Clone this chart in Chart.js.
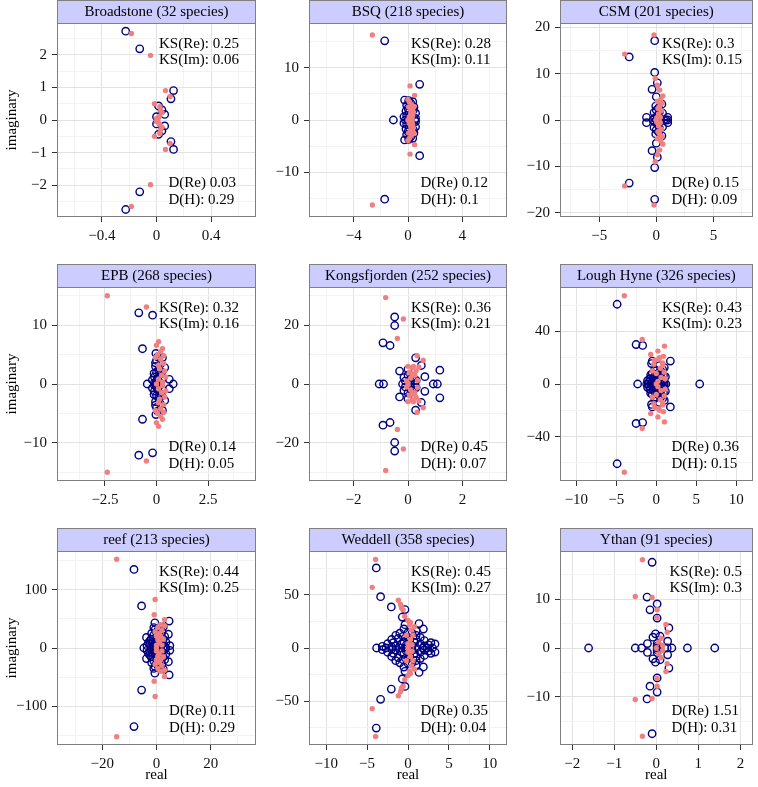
<!DOCTYPE html>
<html>
<head>
<meta charset="utf-8">
<script src="https://cdn.jsdelivr.net/npm/chart.js@4.4.0/dist/chart.umd.min.js"></script>
<style>
  body { margin: 0; background: #fff; }
  #wrap { position: relative; width: 758px; height: 787px; }
  #wrap canvas { position: absolute; left: 0; top: 0; }
</style>
</head>
<body>
<div id="wrap"></div>
<script>
// panel names / annotation values
const panelNames = ['Broadstone', 'BSQ', 'CSM', 'EPB', 'Kongsfjorden', 'Lough Hyne', 'reef', 'Weddell', 'Ythan'];
const speciesCounts = [32, 218, 201, 268, 252, 326, 213, 358, 91];
const ksRe = ['0.25', '0.28', '0.3', '0.32', '0.36', '0.43', '0.44', '0.45', '0.5'];
const ksIm = ['0.06', '0.11', '0.15', '0.16', '0.21', '0.23', '0.25', '0.27', '0.3'];
const dRe = ['0.03', '0.12', '0.15', '0.14', '0.45', '0.36', '0.11', '0.35', '1.51'];
const dH = ['0.29', '0.1', '0.09', '0.05', '0.07', '0.15', '0.29', '0.04', '0.31'];

// axis limits and tick labels
const xLimits = [[-0.73, 0.73], [-7.3, 7.3], [-8.43, 8.43], [-4.83, 4.83], [-3.64, 3.64], [-12.05, 12.05], [-36.7, 36.7], [-12.1, 12.1], [-2.29, 2.29]];
const yLimits = [[-2.97, 2.97], [-18.5, 18.5], [-20.9, 20.9], [-16.5, 16.5], [-33, 33], [-73.7, 73.7], [-166, 166], [-91.5, 91.5], [-19.8, 19.8]];
const xTicks = [[-0.4, 0, 0.4], [-4, 0, 4], [-5, 0, 5], [-2.5, 0, 2.5], [-2, 0, 2], [-10, -5, 0, 5, 10], [-20, 0, 20], [-10, -5, 0, 5, 10], [-2, -1, 0, 1, 2]];
const yTicks = [[-2, -1, 0, 1, 2], [-10, 0, 10], [-20, -10, 0, 10, 20], [-10, 0, 10], [-20, 0, 20], [-40, 0, 40], [-100, 0, 100], [-50, 0, 50], [-10, 0, 10]];

// eigenvalues [real, imaginary]: filled = salmon dots, open = navy rings
const broadstoneFilled = [[-0.184,2.65],[-0.184,-2.65],[-0.044,1.98],[-0.044,-1.98],[0.066,0.9],[0.066,-0.9],[0.1,0.72],[0.1,-0.72],[-0.015,0.5],[-0.015,-0.5],[0.025,0.41],[0.025,-0.41],[0.03,0.3],[0.03,-0.3],[0.04,0.22],[0.04,-0.22],[0.02,0.12],[0.02,-0.12],[0,0.05],[0,-0.05],[0.01,0]];
const broadstoneOpen = [[-0.226,2.72],[-0.226,-2.74],[-0.123,2.18],[-0.123,-2.2],[0.125,0.9],[0.125,-0.9],[0.106,0.65],[0.106,-0.66],[0.015,0.43],[0.015,-0.44],[0.04,0.31],[0.04,-0.33],[0.06,0.17],[0.06,-0.18],[0,0.1],[0,-0.12]];

const bsqFilled = [[-2.63,16.2],[-2.63,-16.2],[0.15,6.5],[0.15,-6.5],[0.49,4.7],[0.49,-4.7],[0,3.9],[0,-3.9],[0.1,3.5],[0.1,-3.5],[0.25,2.9],[0.25,-2.9],[0.35,2.2],[0.35,-2.2],[0.4,1.5],[0.4,-1.5],[0.2,1.2],[0.2,-1.2],[0.1,0.6],[0.1,-0.6],[0,0],[0.3,0.3],[0.3,-0.3],[0.45,2.6],[0.45,-2.6],[0.05,2.5],[0.05,-2.5],[0.2,1.9],[0.2,-1.9],[0.35,0.9],[0.35,-0.9]];
const bsqOpen = [[-1.72,15.1],[-1.72,-15.1],[0.86,6.8],[0.86,-6.8],[-1.08,0],[-0.25,3.8],[-0.25,-3.8],[-0.3,0.6],[-0.3,-0.6],[0.44,2.5],[0.44,-2.5],[0.56,1.3],[0.56,-1.3],[0.56,0.3],[0.56,-0.3],[0.2,3.2],[0.2,-3.2],[0,2.2],[0,-2.2],[0.1,1.5],[0.1,-1.5],[-0.1,0.9],[-0.1,-0.9],[0.3,0.8],[0.3,-0.8],[0,0],[0.15,0.2],[0.15,-0.2],[-0.1,2.8],[-0.1,-2.8],[0.35,3.5],[0.35,-3.5],[0.5,0],[-0.15,1.7],[-0.15,-1.7],[0.4,1.9],[0.4,-1.9],[0.05,3.7],[0.05,-3.7],[-0.2,0],[0.25,1.2],[0.25,-1.2]];

const csmFilled = [[-0.2,18.3],[-0.2,-18.3],[-2.77,14.2],[-2.77,-14.2],[-0.09,9],[-0.09,-9],[0.29,6.45],[0.29,-6.45],[0.57,5.2],[0.57,-5.2],[0.1,4],[0.1,-4],[0.3,3],[0.3,-3],[0.45,2],[0.45,-2],[0.2,1.3],[0.2,-1.3],[0.05,0.5],[0.05,-0.5],[0,0],[0.35,0.6],[0.35,-0.6],[0.15,2.5],[0.15,-2.5],[0.5,3.6],[0.5,-3.6],[0.1,7.5],[0.1,-7.5],[0.4,4.5],[0.4,-4.5]];
const csmOpen = [[-0.14,17.1],[-0.14,-17.1],[-2.37,13.6],[-2.37,-13.6],[-0.14,10.25],[-0.14,-10.25],[0.09,8],[0.09,-8],[-0.37,6.6],[-0.37,-6.6],[0,5],[0,-5],[0.49,3.4],[0.49,-3.4],[-0.86,0.57],[-0.86,-0.57],[1,0.57],[1,-0.57],[0.7,0],[0,2.1],[0,-2.1],[0.15,1.1],[0.15,-1.1],[-0.15,0.4],[-0.15,-0.4],[0.35,0.3],[0.35,-0.3],[0.55,1.5],[0.55,-1.5],[-0.05,3],[-0.05,-3],[0.2,2.6],[0.2,-2.6],[0,0],[-0.2,1.6],[-0.2,-1.6],[0.3,1.9],[0.3,-1.9],[-0.3,0],[0.1,0.6],[0.1,-0.6],[0.85,0],[1,0]];

const epbFilled = [[-2.39,15],[-2.39,-15],[-0.49,13.1],[-0.49,-13.1],[0.1,7.2],[0.1,-7.2],[0,6.6],[0,-6.6],[0.29,6],[0.29,-6],[0.05,5],[0.05,-5],[0.2,4.2],[0.2,-4.2],[0.35,3.5],[0.35,-3.5],[0.1,3.2],[0.1,-3.2],[0.4,2.2],[0.4,-2.2],[0.25,1.5],[0.25,-1.5],[0.1,0.8],[0.1,-0.8],[0,0],[0.3,0.3],[0.3,-0.3],[0.15,2.6],[0.15,-2.6],[0.45,1.2],[0.45,-1.2],[-0.05,4.5],[-0.05,-4.5],[0.2,5.5],[0.2,-5.5],[0.35,4.8],[0.35,-4.8]];
const epbOpen = [[-0.86,12.1],[-0.86,-12.1],[-0.19,11.7],[-0.19,-11.7],[-0.68,6],[-0.68,-6],[-0.03,5.2],[-0.03,-5.2],[0.29,4.5],[0.29,-4.5],[0.4,2.8],[0.4,-2.8],[0.62,0.8],[0.62,-0.8],[0.81,0],[-0.45,0],[0,4],[0,-4],[-0.05,3],[-0.05,-3],[0,2],[0,-2],[-0.1,1.2],[-0.1,-1.2],[0,0.5],[0,-0.5],[0.15,1.6],[0.15,-1.6],[0.2,3.4],[0.2,-3.4],[0,0],[-0.1,0.2],[-0.1,-0.2],[0.1,2.4],[0.1,-2.4],[0.05,0.9],[0.05,-0.9],[-0.12,1.8],[-0.12,-1.8],[0.05,4.6],[0.05,-4.6],[0.3,1],[0.3,-1],[-0.05,3.6],[-0.05,-3.6],[0.15,0.3],[0.15,-0.3],[-0.2,0.7],[-0.2,-0.7],[0.25,2],[0.25,-2]];

const kongFilled = [[-0.82,29.4],[-0.82,-29.4],[-0.17,22.1],[-0.17,-22.1],[-0.39,15.5],[-0.39,-15.5],[0.34,9.6],[0.34,-9.6],[0.56,8.1],[0.56,-8.1],[0,6],[0,-6],[0.15,5.5],[0.15,-5.5],[0.3,4.5],[0.3,-4.5],[0.25,3],[0.25,-3],[0.1,2],[0.1,-2],[0,0],[0.35,1.2],[0.35,-1.2],[0.05,4],[0.05,-4],[0.2,6],[0.2,-6],[-0.05,1],[-0.05,-1],[0.4,5.8],[0.4,-5.8],[0.15,3.5],[0.15,-3.5]];
const kongOpen = [[-0.49,22.8],[-0.49,-22.8],[-0.49,19.9],[-0.49,-19.9],[-0.92,14],[-0.92,-14],[-0.66,13.1],[-0.66,-13.1],[0.28,8.9],[0.28,-8.9],[0.49,6.3],[0.49,-6.3],[1.17,4.7],[1.17,-4.7],[0.62,2.5],[0.62,-2.5],[0.93,0],[1.08,0],[-1.06,0],[-0.9,0],[-0.31,4.4],[-0.31,-4.4],[-0.15,2.2],[-0.15,-2.2],[0,3],[0,-3],[0.15,2.2],[0.15,-2.2],[-0.2,0],[0.25,0],[0,5],[0,-5],[0.1,1],[0.1,-1],[-0.1,1],[-0.1,-1],[0.3,1.2],[0.3,-1.2]];

const loughFilled = [[-4,67],[-4,-67],[-1.76,33.8],[-1.76,-33.8],[1.02,28.8],[1.02,-28.8],[0.2,25],[0.2,-25],[-0.7,22.5],[-0.7,-22.5],[0.3,19],[0.3,-19],[0.8,16],[0.8,-16],[-0.3,15],[-0.3,-15],[0.5,12],[0.5,-12],[1,9],[1,-9],[0,8],[0,-8],[0.6,5],[0.6,-5],[0.2,2],[0.2,-2],[0,0],[0.8,14],[0.8,-14],[-0.5,10],[-0.5,-10],[0.4,20],[0.4,-20],[0.9,21],[0.9,-21],[-0.2,18],[-0.2,-18],[1.1,4],[1.1,-4]];
const loughOpen = [[-4.9,60.6],[-4.9,-60.6],[-2.53,30],[-2.53,-30],[-1.71,29.3],[-1.71,-29.3],[1.76,17.4],[1.76,-17.4],[-0.5,17.4],[-0.5,-17.4],[-0.6,15.5],[-0.6,-15.5],[-2.33,0],[5.43,0],[1.14,5.6],[1.14,-5.6],[1.2,0],[-1,0],[0.8,11],[0.8,-11],[1,12.5],[1,-12.5],[-0.8,4],[-0.8,-4],[-0.5,8],[-0.5,-8],[0,10],[0,-10],[0.5,7],[0.5,-7],[0.9,3],[0.9,-3],[-0.3,2],[-0.3,-2],[0.3,4],[0.3,-4],[0,0],[-0.6,0],[0.6,0],[0.2,1],[0.2,-1],[-0.2,6],[-0.2,-6],[0.7,9],[0.7,-9],[1,1.5],[1,-1.5],[-0.9,1.5],[-0.9,-1.5],[0.4,14],[0.4,-14],[-0.4,4],[-0.4,-4],[0.1,6],[0.1,-6],[0.5,2.5],[0.5,-2.5],[-0.7,7],[-0.7,-7],[0.3,8.5],[0.3,-8.5],[-1.1,2.5],[-1.1,-2.5],[0.9,6.5],[0.9,-6.5],[-0.2,11],[-0.2,-11],[0.1,3],[0.1,-3],[-1.2,0],[0.95,0],[-0.4,0.5],[-0.4,-0.5]];

const reefFilled = [[-14.7,152],[-14.7,-152],[-0.5,83],[-0.5,-83],[-0.86,57],[-0.86,-57],[2.94,48.6],[2.94,-48.6],[1.5,40],[1.5,-40],[0.5,35],[0.5,-35],[2,30],[2,-30],[1,25],[1,-25],[0,20],[0,-20],[2.5,15],[2.5,-15],[1,10],[1,-10],[0,5],[0,-5],[0,0],[2,5],[2,-5],[3,38],[3,-38],[-0.5,28],[-0.5,-28],[1.5,20],[1.5,-20],[0.5,14],[0.5,-14]];
const reefOpen = [[-8.3,134.5],[-8.3,-134.5],[-5.5,72],[-5.5,-72],[4.66,46],[4.66,-46],[4.4,23.5],[4.4,-23.5],[4.9,4],[4.9,-4],[-4.66,0],[-0.6,43],[-0.6,-43],[-3.7,18],[-3.7,-18],[-1.8,25],[-1.8,-25],[-3,9],[-3,-9],[-2.5,12],[-2.5,-12],[-1,35],[-1,-35],[0.5,30],[0.5,-30],[2,28],[2,-28],[3,20],[3,-20],[3.5,10],[3.5,-10],[2,6],[2,-6],[-1,4],[-1,-4],[-2,2],[-2,-2],[0,15],[0,-15],[1,18],[1,-18],[-1,22],[-1,-22],[0,0],[1.5,0],[-0.5,10],[-0.5,-10],[2.5,36],[2.5,-36],[3.5,0],[-3.5,4],[-3.5,-4],[-2,15],[-2,-15],[0,26],[0,-26],[1,12],[1,-12],[2.5,15],[2.5,-15],[-1.5,8],[-1.5,-8],[0.5,5],[0.5,-5],[-0.5,32],[-0.5,-32],[1.5,33],[1.5,-33],[3,3],[3,-3],[-2.5,6],[-2.5,-6]];

const weddellFilled = [[-3.96,83.5],[-3.96,-83.5],[-4.37,57.2],[-4.37,-57.2],[-1.18,45],[-1.18,-45],[-0.9,41],[-0.9,-41],[-0.6,36],[-0.6,-36],[-0.4,30],[-0.4,-30],[0,26],[0,-26],[0.2,22],[0.2,-22],[0.4,17],[0.4,-17],[0.6,12],[0.6,-12],[0.3,8],[0.3,-8],[0,4],[0,-4],[0,0],[0.5,3],[0.5,-3],[-0.2,12],[-0.2,-12],[0.8,20],[0.8,-20],[-0.8,38],[-0.8,-38],[0.3,24],[0.3,-24]];
const weddellOpen = [[-3.88,75.5],[-3.88,-75.5],[-3.35,48.4],[-3.35,-48.4],[-2.04,38.7],[-2.04,-38.7],[-0.37,36.2],[-0.37,-36.2],[-0.7,29.2],[-0.7,-29.2],[-0.37,22],[-0.37,-22],[1.35,23],[1.35,-23],[1.88,17.9],[1.88,-17.9],[-3.84,0],[-3.14,1.6],[-3.14,-1.6],[3.3,3.8],[3.3,-3.8],[2.37,0],[-2.5,4],[-2.5,-4],[-2,8],[-2,-8],[-1.5,12],[-1.5,-12],[-1,14],[-1,-14],[-0.5,6],[-0.5,-6],[0,10],[0,-10],[0.5,14],[0.5,-14],[1,8],[1,-8],[1.5,4],[1.5,-4],[2.5,3],[2.5,-3],[-1.5,2],[-1.5,-2],[-1,0],[1,0],[0,0],[0.5,2],[0.5,-2],[-0.5,18],[-0.5,-18],[1,12],[1,-12],[2,7],[2,-7],[-2,1],[-2,-1],[3,0],[-0.8,4],[-0.8,-4],[-1.2,9],[-1.2,-9],[-0.2,3],[-0.2,-3],[0.2,7],[0.2,-7],[1.5,10],[1.5,-10],[-1.8,5],[-1.8,-5],[0,14.5],[0,-14.5],[2,2],[2,-2],[-0.6,11],[-0.6,-11],[0.8,5],[0.8,-5],[-2.7,0],[1.8,0],[-0.4,0],[0.4,0],[1,16],[1,-16],[2.8,5],[2.8,-5]];

const ythanFilled = [[-0.33,18],[-0.33,-18],[-0.5,10.5],[-0.5,-10.5],[-0.1,10.3],[-0.1,-10.3],[0.02,7.8],[0.02,-7.8],[0.23,4.8],[0.23,-4.8],[0.26,3.2],[0.26,-3.2],[0.12,2],[0.12,-2],[0.05,1.2],[0.05,-1.2],[0,0],[0.15,0.5],[0.15,-0.5],[0.02,6.2],[0.02,-6.2]];
const ythanOpen = [[-0.1,17.5],[-0.1,-17.5],[-0.22,10.4],[-0.22,-10.4],[0.02,9],[0.02,-9],[-0.15,7.8],[-0.15,-7.8],[0.02,6.1],[0.02,-6.1],[0.3,4.1],[0.3,-4.1],[-1.61,0],[-0.5,0],[-0.35,0],[-0.21,0.9],[-0.21,-0.9],[-0.08,2.2],[-0.08,-2.2],[-0.02,2.9],[-0.02,-2.9],[0.09,2.4],[0.09,-2.4],[0.27,1.4],[0.27,-1.4],[0.26,0],[0.37,0],[0.74,0],[1.39,0],[0.02,0],[0.02,0.9],[0.02,-0.9],[0.02,0.4],[0.02,-0.4],[0.2,0]];

const filledSeries = [broadstoneFilled, bsqFilled, csmFilled, epbFilled, kongFilled, loughFilled, reefFilled, weddellFilled, ythanFilled];
const openSeries = [broadstoneOpen, bsqOpen, csmOpen, epbOpen, kongOpen, loughOpen, reefOpen, weddellOpen, ythanOpen];

// layout of the 3x3 grid (pixels)
const W = 758, H = 787;
const colLeft = [57, 309, 560];
const colRight = [256, 507, 757];
const rowTop = [23, 287, 551];
const plotH = 194;
const stripH = 23;
const Y_AXIS_W = 50;
const X_AXIS_H = 30;
const SERIF = '"Liberation Serif", "DejaVu Serif", serif';

function fmt(v) {
  return String(v).replace('-', '\u2212');
}
function isMajor(list, v) {
  return list.some(t => Math.abs(t - v) < 1e-9);
}
function withMinor(major, lim) {
  const step = major[1] - major[0];
  let out = major.slice();
  for (let k = -10; k <= 10; k++) {
    const v = major[0] + (k + 0.5) * step;
    if (v > lim[0] && v < lim[1]) out.push(v);
  }
  return out.sort((a, b) => a - b);
}

function axis(major, lim) {
  const all = withMinor(major, lim);
  return {
    type: 'linear',
    min: lim[0],
    max: lim[1],
    afterBuildTicks: s => { s.ticks = all.map(v => ({ value: v })); },
    grid: {
      color: c => isMajor(major, c.tick.value) ? '#e2e2e2' : '#f3f3f3',
      tickColor: c => isMajor(major, c.tick.value) ? '#333' : 'rgba(0,0,0,0)',
      tickLength: 5,
      lineWidth: 1
    },
    border: { display: false },
    ticks: {
      autoSkip: false,
      maxRotation: 0,
      minRotation: 0,
      padding: 5,
      color: '#111',
      font: { family: SERIF, size: 15 },
      callback: v => isMajor(major, v) ? fmt(v) : ''
    }
  };
}

// strip, border, annotations, axis titles
const panelDeco = {
  id: 'panelDeco',
  afterDatasetsDraw(chart, args, o) {
    const ctx = chart.ctx;
    const a = chart.chartArea;
    ctx.save();
    ctx.strokeStyle = '#7f7f7f';
    ctx.lineWidth = 1;
    ctx.strokeRect(Math.round(a.left) + 0.5, Math.round(a.top) + 0.5, Math.round(a.right - a.left) - 1, Math.round(a.bottom - a.top) - 1);

    // strip
    const st = Math.round(a.top) - stripH;
    ctx.fillStyle = '#ccccff';
    ctx.fillRect(Math.round(a.left) + 0.5, st + 0.5, Math.round(a.right - a.left) - 1, stripH);
    ctx.strokeRect(Math.round(a.left) + 0.5, st + 0.5, Math.round(a.right - a.left) - 1, stripH);
    ctx.fillStyle = '#000';
    ctx.font = '15px ' + SERIF;
    ctx.textAlign = 'center';
    ctx.textBaseline = 'middle';
    ctx.fillText(o.title, (a.left + a.right) / 2, st + stripH / 2 + 1);

    // annotation blocks
    ctx.font = '15px ' + SERIF;
    ctx.textAlign = 'left';
    const ks = ['KS(Re): ' + o.ksRe, 'KS(Im): ' + o.ksIm];
    const ksW = Math.max(...ks.map(t => ctx.measureText(t).width));
    ks.forEach((t, i) => ctx.fillText(t, a.left + 182 - ksW, a.top + 21 + i * 16));
    const dd = ['D(Re) ' + o.dRe, 'D(H): ' + o.dH];
    const dW = Math.max(...dd.map(t => ctx.measureText(t).width));
    dd.forEach((t, i) => ctx.fillText(t, a.left + 179 - dW, a.bottom - 33.5 + i * 17));

    // axis titles
    ctx.font = '15px ' + SERIF;
    if (o.showY) {
      ctx.save();
      ctx.translate(12, (a.top + a.bottom) / 2);
      ctx.rotate(-Math.PI / 2);
      ctx.textAlign = 'center';
      ctx.fillText('imaginary', 0, 0);
      ctx.restore();
    }
    if (o.showX) {
      ctx.textAlign = 'center';
      ctx.fillText('real', (a.left + a.right) / 2, 775);
    }
    ctx.restore();
  }
};

const wrap = document.getElementById('wrap');
for (let i = 0; i < 9; i++) {
  const r = Math.floor(i / 3), c = i % 3;
  const canvas = document.createElement('canvas');
  canvas.width = W;
  canvas.height = H;
  wrap.appendChild(canvas);

  const yAx = axis(yTicks[i], yLimits[i]);
  yAx.afterFit = s => { s.width = Y_AXIS_W; };
  const xAx = axis(xTicks[i], xLimits[i]);
  xAx.afterFit = s => { s.height = X_AXIS_H; };

  new Chart(canvas.getContext('2d'), {
    type: 'scatter',
    data: {
      datasets: [{
        label: 'filled',
        data: filledSeries[i].map(p => ({ x: p[0], y: p[1] })),
        pointRadius: 2.7,
        pointBackgroundColor: '#F08080',
        pointBorderColor: '#F08080',
        pointBorderWidth: 0
      }, {
        label: 'open',
        data: openSeries[i].map(p => ({ x: p[0], y: p[1] })),
        pointRadius: 3.7,
        pointBackgroundColor: 'rgba(0,0,0,0)',
        pointBorderColor: '#000080',
        pointBorderWidth: 1.4
      }]
    },
    options: {
      responsive: false,
      animation: false,
      devicePixelRatio: 1,
      events: [],
      layout: {
        padding: {
          left: colLeft[c] - Y_AXIS_W,
          right: W - colRight[c],
          top: rowTop[r],
          bottom: H - (rowTop[r] + plotH) - X_AXIS_H
        }
      },
      scales: { x: xAx, y: yAx },
      plugins: {
        legend: { display: false },
        tooltip: { enabled: false },
        panelDeco: {
          title: panelNames[i] + ' (' + speciesCounts[i] + ' species)',
          ksRe: ksRe[i], ksIm: ksIm[i], dRe: dRe[i], dH: dH[i],
          showY: c === 0,
          showX: r === 2
        }
      }
    },
    plugins: [panelDeco]
  });
}
</script>
</body>
</html>
